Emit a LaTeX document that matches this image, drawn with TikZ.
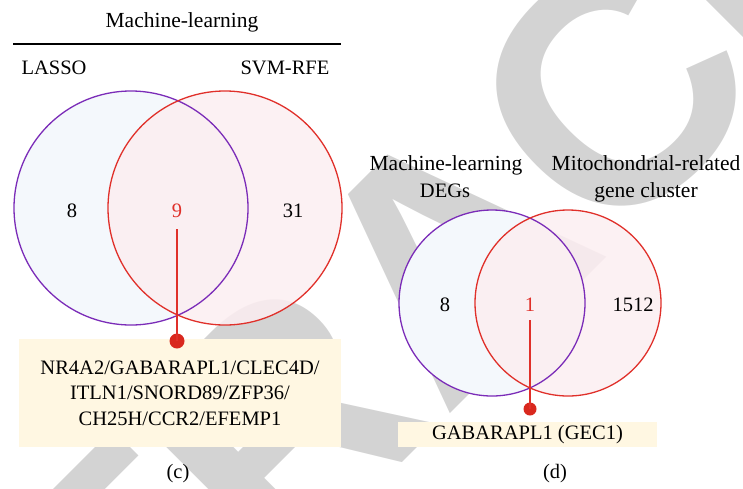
\documentclass[tikz,border=0pt]{standalone}
\usepackage{fontspec}
\setmainfont{Liberation Serif}
\newfontfamily\wmfont{Liberation Sans}
\definecolor{wmgrey}{HTML}{D3D3D3}
\definecolor{purp}{HTML}{7B2CB8}
\definecolor{redc}{HTML}{E0302A}
\definecolor{dotred}{HTML}{D9281E}
\definecolor{lfill}{HTML}{F4F8FC}
\definecolor{rfill}{HTML}{FCEEF1}
\definecolor{boxfill}{HTML}{FFF7E2}
\begin{document}
\begin{tikzpicture}[x=1pt,y=-1pt,
  lbl/.style={font=\fontsize{20.5}{25.5}\selectfont, inner sep=0pt, anchor=base},
  lbll/.style={font=\fontsize{21.5}{25.5}\selectfont, inner sep=0pt, anchor=base},
  wm/.style={rotate=45, text=wmgrey, font=\wmfont\bfseries\fontsize{330}{330}\selectfont, inner sep=0pt},
  leftset/.style={draw=purp, line width=1.3pt},
  rightset/.style={draw=redc, line width=1.3pt},
  conn/.style={draw=redc, line width=2pt},
  dotnode/.style={circle, fill=dotred, inner sep=0pt, minimum size=15pt},
  genebox/.style={fill=boxfill, inner sep=0pt, align=center, font=\fontsize{20.5}{25.5}\selectfont}]
\useasboundingbox (0,0) rectangle (743,488);
% watermark
\begin{scope}
\clip (0,0) rectangle (743,488);
\node[wm] (wmT1) at (124,579) {T};
\node[wm] (wmR) at (280,424) {R};
\node[wm] (wmA) at (448,255) {A};
\node[wm] (wmC) at (612,92) {C};
\node[wm] (wmT2) at (715,-24) {T};
\end{scope}
% ---------- panel (c)
\node[lbll] (titlec) at (182,27) {Machine-learning};
\draw[line width=2pt] (13,43.5) coordinate (rulel) -- (341,43.5) coordinate (ruler);
\node[lbl] (lasso) at (54,74) {LASSO};
\node[lbl] (svm) at (285,74) {SVM-RFE};
\fill[lfill] (131,208) circle[radius=117pt];
\fill[rfill, fill opacity=0.85] (225,208) circle[radius=117pt];
\draw[leftset] (131,208) circle[radius=117pt];
\draw[rightset] (225,208) circle[radius=117pt];
\node[lbl] (c8) at (72,217) {8};
\node[lbl, text=redc] (c9) at (177,217) {9};
\node[lbl] (c31) at (293,217) {31};
\node[genebox, minimum width=322pt, minimum height=108pt] (boxc) at (180,393) {NR4A2/GABARAPL1/CLEC4D/\\ITLN1/SNORD89/ZFP36/\\CH25H/CCR2/EFEMP1};
\node[dotnode] (dotc) at (177,341) {};
\draw[conn] ([yshift=-12pt]c9.south) -- (dotc.center);
\node[lbl] (capc) at (178,478) {(c)};
% ---------- panel (d)
\node[lbll] (ml) at (446,170) {Machine-learning};
\node[lbl] (degs) at (445,197) {DEGs};
\node[lbll] (mito) at (646,170) {Mitochondrial-related};
\node[lbll] (gene) at (646,197) {gene cluster};
\fill[lfill] (492,303) circle[radius=93pt];
\fill[rfill, fill opacity=0.85] (568,303) circle[radius=93pt];
\draw[leftset] (492,303) circle[radius=93pt];
\draw[rightset] (568,303) circle[radius=93pt];
\node[lbl] (d8) at (445,311) {8};
\node[lbl, text=redc] (d1) at (530,311) {1};
\node[lbl] (d1512) at (633,311) {1512};
\node[genebox, minimum width=259pt, minimum height=25pt] (boxd) at (527.5,434.5) {GABARAPL1 (GEC1)};
\node[dotnode, minimum size=13pt] (dotd) at (530,409) {};
\draw[conn, line width=1.8pt] ([yshift=-9pt]d1.south) -- (dotd.center);
\node[lbl] (capd) at (555,478) {(d)};
\end{tikzpicture}
\end{document}
